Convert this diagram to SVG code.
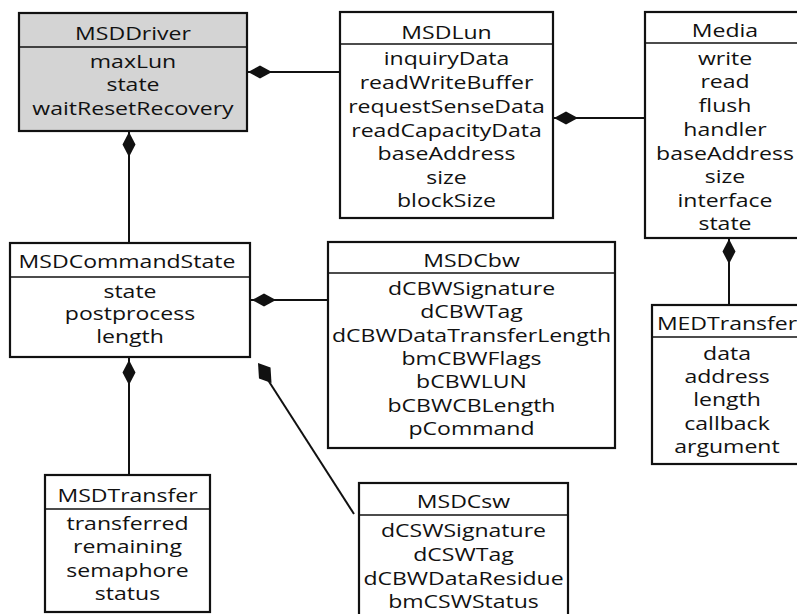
<svg xmlns="http://www.w3.org/2000/svg" width="797" height="614" viewBox="0 0 797 614">
  <defs>
    <style>
      .box { fill: #ffffff; stroke: #111111; stroke-width: 2.2; }
      .box.main { fill: #d4d4d4; }
      .sep { stroke: #111111; stroke-width: 1.5; }
      .link { stroke: #111111; stroke-width: 2; fill: none; }
      .dia { fill: #111111; stroke: none; }
      text { font-family: "Open Sans", "Noto Sans", "Liberation Sans", sans-serif; font-size: 18px; fill: #111111; text-anchor: middle; }
    </style>
    <!-- composition diamond, pointing left from its origin -->
    <polygon id="diaH" class="dia" points="0,0 12,-6.5 24,0 12,6.5"/>
    <!-- composition diamond, pointing up from its origin -->
    <polygon id="diaV" class="dia" points="0,0 6.5,12.5 0,25 -6.5,12.5"/>
  </defs>

  <!-- connectors -->
  <g id="connectors">
    <line class="link" x1="247" y1="72" x2="340" y2="72"/>
    <use href="#diaH" x="248" y="72"/>

    <line class="link" x1="129" y1="131" x2="129" y2="243"/>
    <use href="#diaV" x="129" y="132"/>

    <line class="link" x1="553" y1="118" x2="645" y2="118"/>
    <use href="#diaH" x="554" y="118"/>

    <line class="link" x1="729" y1="238" x2="729" y2="305"/>
    <use href="#diaV" x="729" y="239"/>

    <line class="link" x1="250" y1="300" x2="328" y2="300"/>
    <use href="#diaH" x="252" y="300"/>

    <line class="link" x1="129" y1="357" x2="129" y2="475"/>
    <use href="#diaV" x="129" y="360"/>

    <line class="link" x1="268" y1="380" x2="354" y2="514"/>
    <polygon class="dia" points="258,363 270.5,367.5 271.5,383 259,378.5"/>
  </g>

  <!-- MSDDriver -->
  <g id="MSDDriver">
    <rect class="box main" x="19" y="13" width="228" height="118"/>
    <line class="sep" x1="19" y1="47" x2="247" y2="47"/>
    <g transform="translate(133 0) scale(1.28 1)">
      <text x="0" y="40">MSDDriver</text>
      <text x="0" y="68">maxLun</text>
      <text x="0" y="91">state</text>
      <text x="0" y="115">waitResetRecovery</text>
    </g>
  </g>

  <!-- MSDLun -->
  <g id="MSDLun">
    <rect class="box" x="340" y="12" width="213" height="206"/>
    <line class="sep" x1="340" y1="44" x2="553" y2="44"/>
    <g transform="translate(446.5 0) scale(1.28 1)">
      <text x="0" y="39">MSDLun</text>
      <text x="0" y="65">inquiryData</text>
      <text x="0" y="89">readWriteBuffer</text>
      <text x="0" y="113">requestSenseData</text>
      <text x="0" y="137">readCapacityData</text>
      <text x="0" y="160">baseAddress</text>
      <text x="0" y="184">size</text>
      <text x="0" y="207">blockSize</text>
    </g>
  </g>

  <!-- Media -->
  <g id="Media">
    <rect class="box" x="645" y="12" width="160" height="226"/>
    <line class="sep" x1="645" y1="43" x2="805" y2="43"/>
    <g transform="translate(725 0) scale(1.28 1)">
      <text x="0" y="37">Media</text>
      <text x="0" y="65">write</text>
      <text x="0" y="88">read</text>
      <text x="0" y="112">flush</text>
      <text x="0" y="136">handler</text>
      <text x="0" y="160">baseAddress</text>
      <text x="0" y="183">size</text>
      <text x="0" y="207">interface</text>
      <text x="0" y="230">state</text>
    </g>
  </g>

  <!-- MEDTransfer -->
  <g id="MEDTransfer">
    <rect class="box" x="652" y="305" width="160" height="159"/>
    <line class="sep" x1="652" y1="337" x2="812" y2="337"/>
    <g transform="translate(727 0) scale(1.28 1)">
      <text x="0" y="330">MEDTransfer</text>
      <text x="0" y="360">data</text>
      <text x="0" y="383">address</text>
      <text x="0" y="406">length</text>
      <text x="0" y="430">callback</text>
      <text x="0" y="453">argument</text>
    </g>
  </g>

  <!-- MSDCommandState -->
  <g id="MSDCommandState">
    <rect class="box" x="10" y="243" width="240" height="114"/>
    <line class="sep" x1="10" y1="277" x2="250" y2="277"/>
    <g transform="translate(127 0) scale(1.28 1)">
      <text x="0" y="268">MSDCommandState</text>
    </g>
    <g transform="translate(130 0) scale(1.28 1)">
      <text x="0" y="298">state</text>
      <text x="0" y="320">postprocess</text>
      <text x="0" y="343">length</text>
    </g>
  </g>

  <!-- MSDCbw -->
  <g id="MSDCbw">
    <rect class="box" x="328" y="242" width="287" height="206"/>
    <line class="sep" x1="328" y1="273" x2="615" y2="273"/>
    <g transform="translate(471.5 0) scale(1.28 1)">
      <text x="0" y="267">MSDCbw</text>
      <text x="0" y="295">dCBWSignature</text>
      <text x="0" y="318">dCBWTag</text>
      <text x="0" y="342">dCBWDataTransferLength</text>
      <text x="0" y="365">bmCBWFlags</text>
      <text x="0" y="388">bCBWLUN</text>
      <text x="0" y="412">bCBWCBLength</text>
      <text x="0" y="435">pCommand</text>
    </g>
  </g>

  <!-- MSDTransfer -->
  <g id="MSDTransfer">
    <rect class="box" x="45" y="475" width="165" height="137"/>
    <line class="sep" x1="45" y1="509" x2="210" y2="509"/>
    <g transform="translate(127.5 0) scale(1.28 1)">
      <text x="0" y="502">MSDTransfer</text>
      <text x="0" y="530">transferred</text>
      <text x="0" y="553">remaining</text>
      <text x="0" y="577">semaphore</text>
      <text x="0" y="600">status</text>
    </g>
  </g>

  <!-- MSDCsw -->
  <g id="MSDCsw">
    <rect class="box" x="359" y="483" width="209" height="140"/>
    <line class="sep" x1="359" y1="515" x2="568" y2="515"/>
    <g transform="translate(463.5 0) scale(1.28 1)">
      <text x="0" y="508">MSDCsw</text>
      <text x="0" y="537">dCSWSignature</text>
      <text x="0" y="561">dCSWTag</text>
      <text x="0" y="585">dCBWDataResidue</text>
      <text x="0" y="608">bmCSWStatus</text>
    </g>
  </g>
</svg>
